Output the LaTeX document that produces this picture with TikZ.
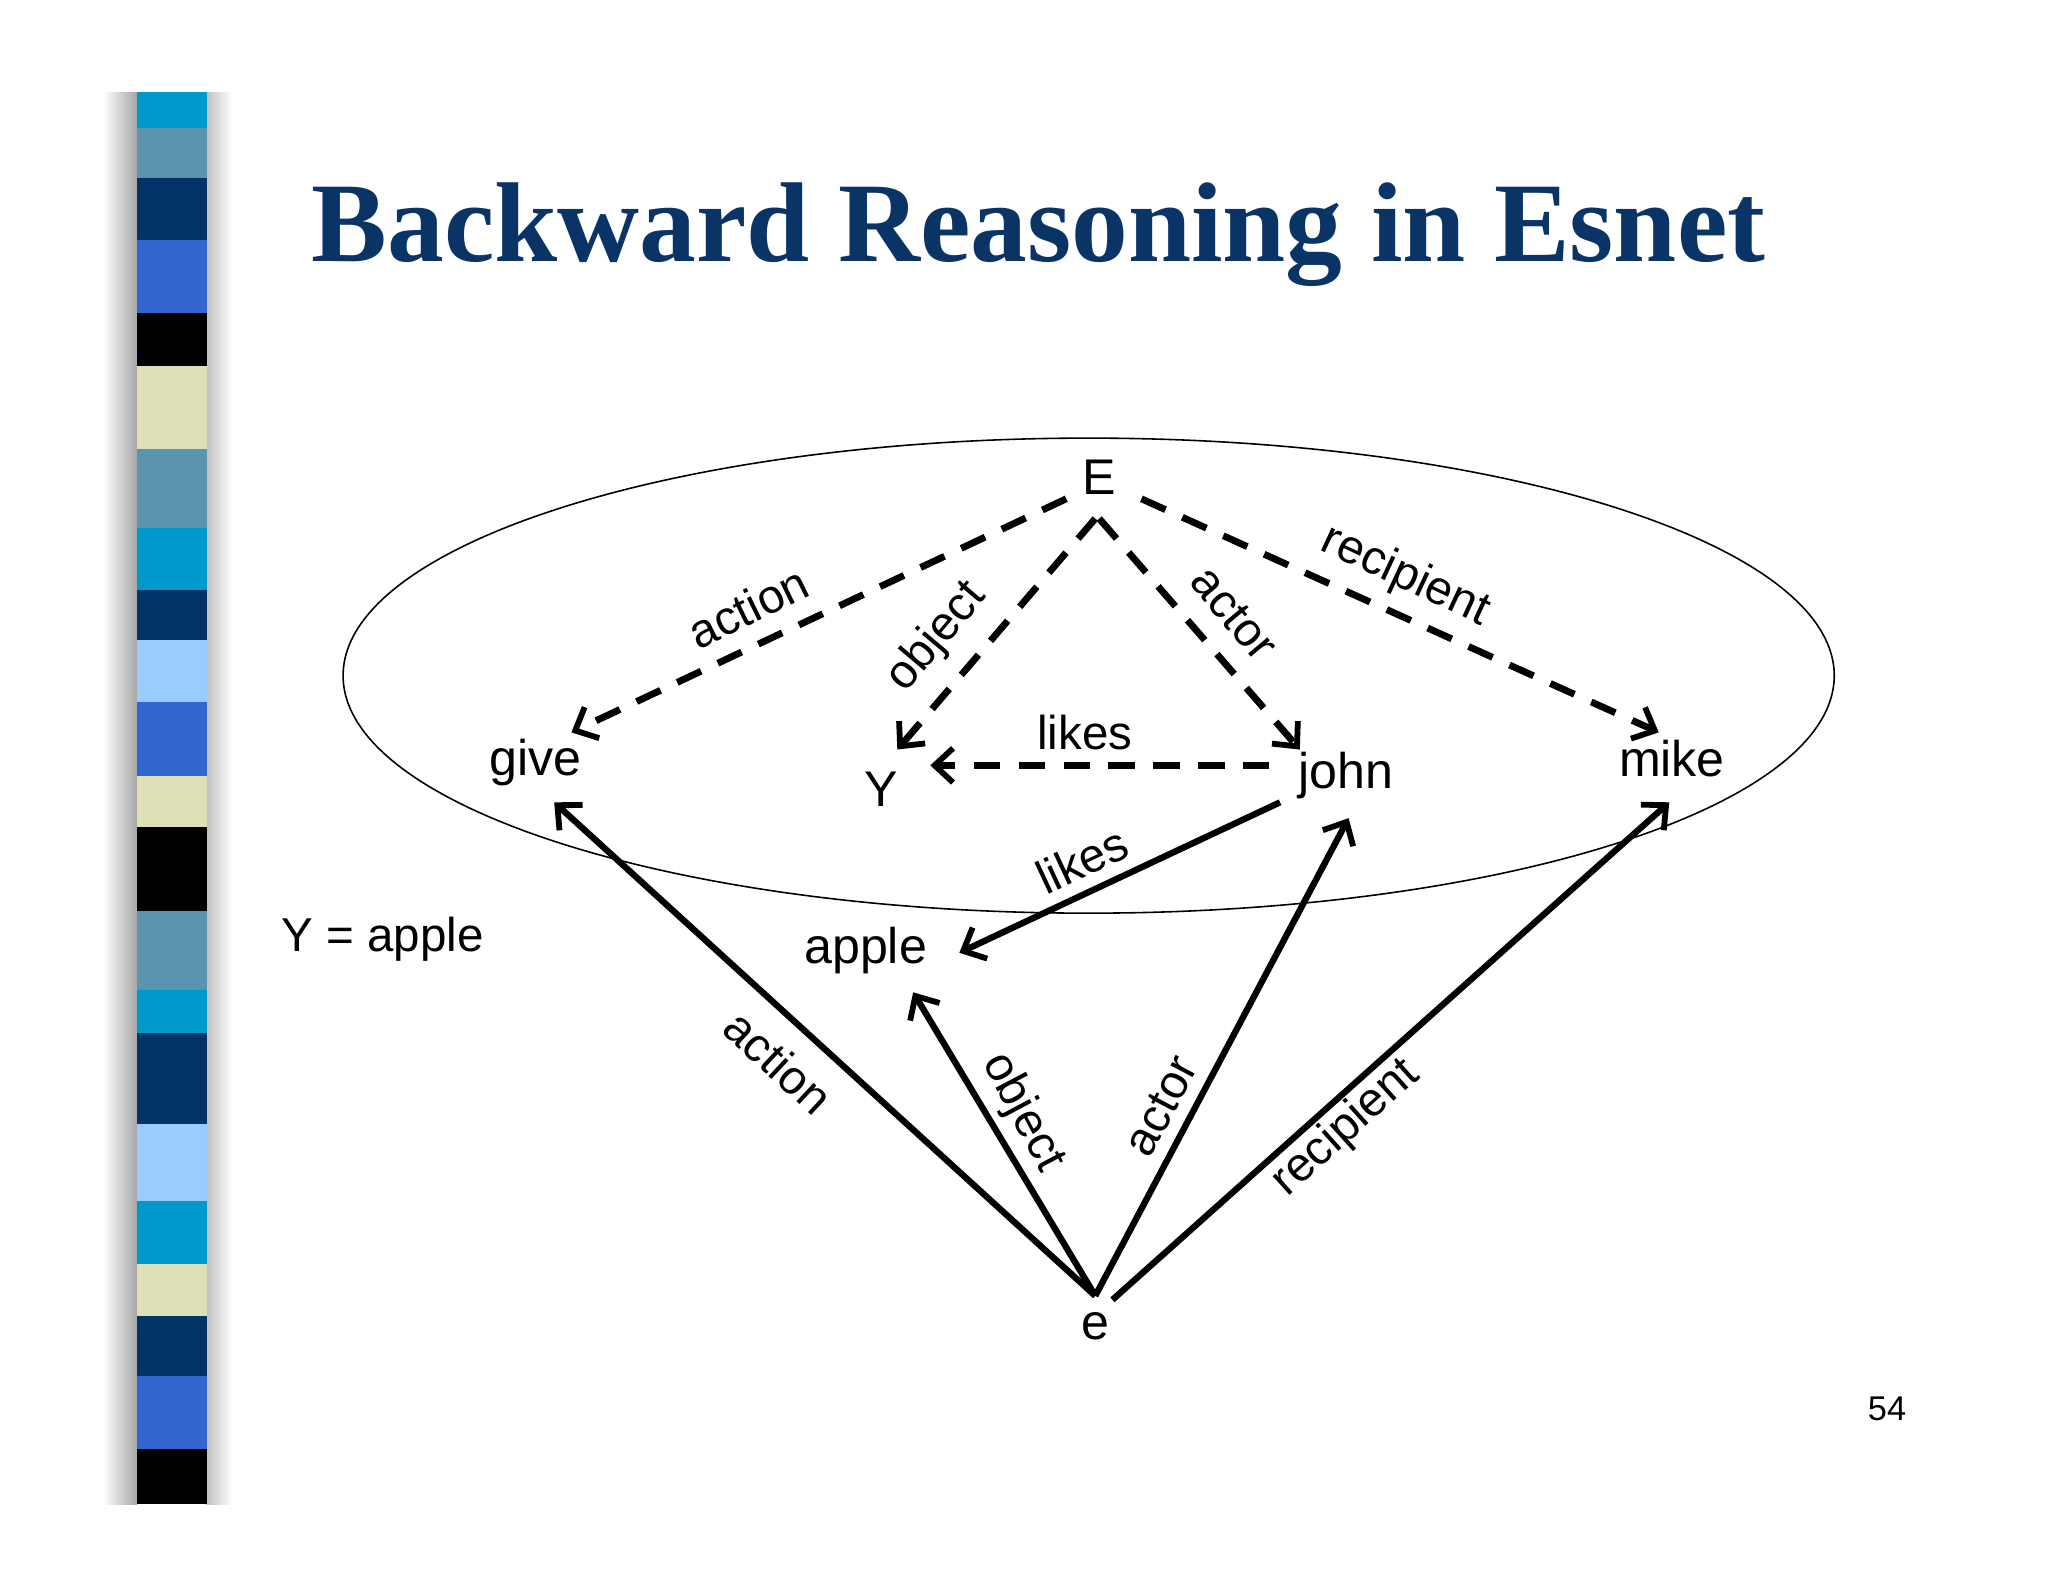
\documentclass[tikz,border=0pt]{standalone}
\usepackage{fontspec}
\setmainfont{Liberation Sans}
\newfontfamily\titlefont{Liberation Serif}
\usetikzlibrary{arrows.meta}
\definecolor{navy}{HTML}{0A3366}
\definecolor{cy}{HTML}{0099CC}
\definecolor{st}{HTML}{5A94AE}
\definecolor{nv}{HTML}{003366}
\definecolor{bl}{HTML}{3366CC}
\definecolor{be}{HTML}{E0E0B8}
\definecolor{lb}{HTML}{99CCFF}
\tikzset{
 lbl/.style={font=\fontsize{18}{21}\selectfont, inner sep=0pt},
 nd/.style={font=\fontsize{19}{22}\selectfont, inner sep=1pt},
 da/.style={line width=2.6pt, dash pattern=on 10pt off 7pt, -{Straight Barb[length=7pt,width=13pt,line width=2.2pt]}},
 so/.style={line width=2.4pt, -{Straight Barb[length=7pt,width=13pt,line width=2.2pt]}},
}
\begin{document}
\begin{tikzpicture}[x=0.5pt,y=-0.5pt]
\useasboundingbox (0,0) rectangle (1552,1199);
\fill[white] (0,0) rectangle (1552,1199);
\shade[left color=white, right color=gray!70] (78,70) rectangle (104,1140);
\shade[left color=gray!50, right color=white] (156,70) rectangle (176,1140);
\foreach \a/\b/\c in {70/97/cy,97/135/st,135/182/nv,182/237/bl,237/277/black,277/340/be,340/400/st,400/447/cy,447/485/nv,485/532/lb,532/588/bl,588/627/be,627/690/black,690/750/st,750/783/cy,783/852/nv,852/910/lb,910/958/cy,958/997/be,997/1043/nv,1043/1098/bl,1098/1140/black}
  \fill[\c] (104,\a) rectangle (157,\b);
\node[font=\titlefont\bfseries\fontsize{43}{48}\selectfont, text=navy] (title) at (787,178) {Backward Reasoning in Esnet};
\draw[line width=0.6pt] (825,512) ellipse [x radius=565, y radius=180];
\node[nd] (E) at (833,362) {E};
\node[nd] (give) at (406,578) {give};
\node[nd] (Y) at (668,598) {Y};
\node[nd] (john) at (1020,588) {john};
\node[nd] (mike) at (1267,575) {mike};
\node[nd] (apple) at (656,720) {apple};
\node[nd] (e) at (830,1005) {e};
\node[lbl] (eq) at (290,712) {Y = apple};
\node[font=\fontsize{13}{15}\selectfont] (pg) at (1430,1068) {54};
\coordinate (Ea) at (808,378); \coordinate (Eb) at (830,393); \coordinate (Ec) at (833,393); \coordinate (Ed) at (865,378);
\coordinate (gd) at (433,555); \coordinate (Yd) at (680,568); \coordinate (jd) at (985,568); \coordinate (md) at (1257,555);
\coordinate (js) at (962,580); \coordinate (Ye) at (705,580);
\draw[da] (Ea) -- (gd); \draw[da] (Eb) -- (Yd); \draw[da] (Ec) -- (jd); \draw[da] (Ed) -- (md); \draw[da] (js) -- (Ye);
\node[lbl, rotate=26] at (567,460) {action};
\node[lbl, rotate=50] at (710,483) {object};
\node[lbl, rotate=-50] at (935,465) {actor};
\node[lbl, rotate=-25] at (1065,437) {recipient};
\node[lbl] at (822,555) {likes};
\coordinate (e0) at (830,982); \coordinate (e1) at (843,985);
\coordinate (gs) at (420,608); \coordinate (as) at (692,752); \coordinate (jsx) at (1022,620); \coordinate (ms) at (1265,608);
\coordinate (jl) at (970,608); \coordinate (al) at (727,722);
\draw[so] (e0) -- (gs); \draw[so] (e0) -- (as); \draw[so] (e0) -- (jsx); \draw[so] (e1) -- (ms); \draw[so] (jl) -- (al);
\node[lbl, rotate=-43] at (590,805) {action};
\node[lbl, rotate=-62] at (775,843) {object};
\node[lbl, rotate=62] at (880,838) {actor};
\node[lbl, rotate=42] at (1020,855) {recipient};
\node[lbl, rotate=25] at (820,652) {likes};
\end{tikzpicture}
\end{document}
